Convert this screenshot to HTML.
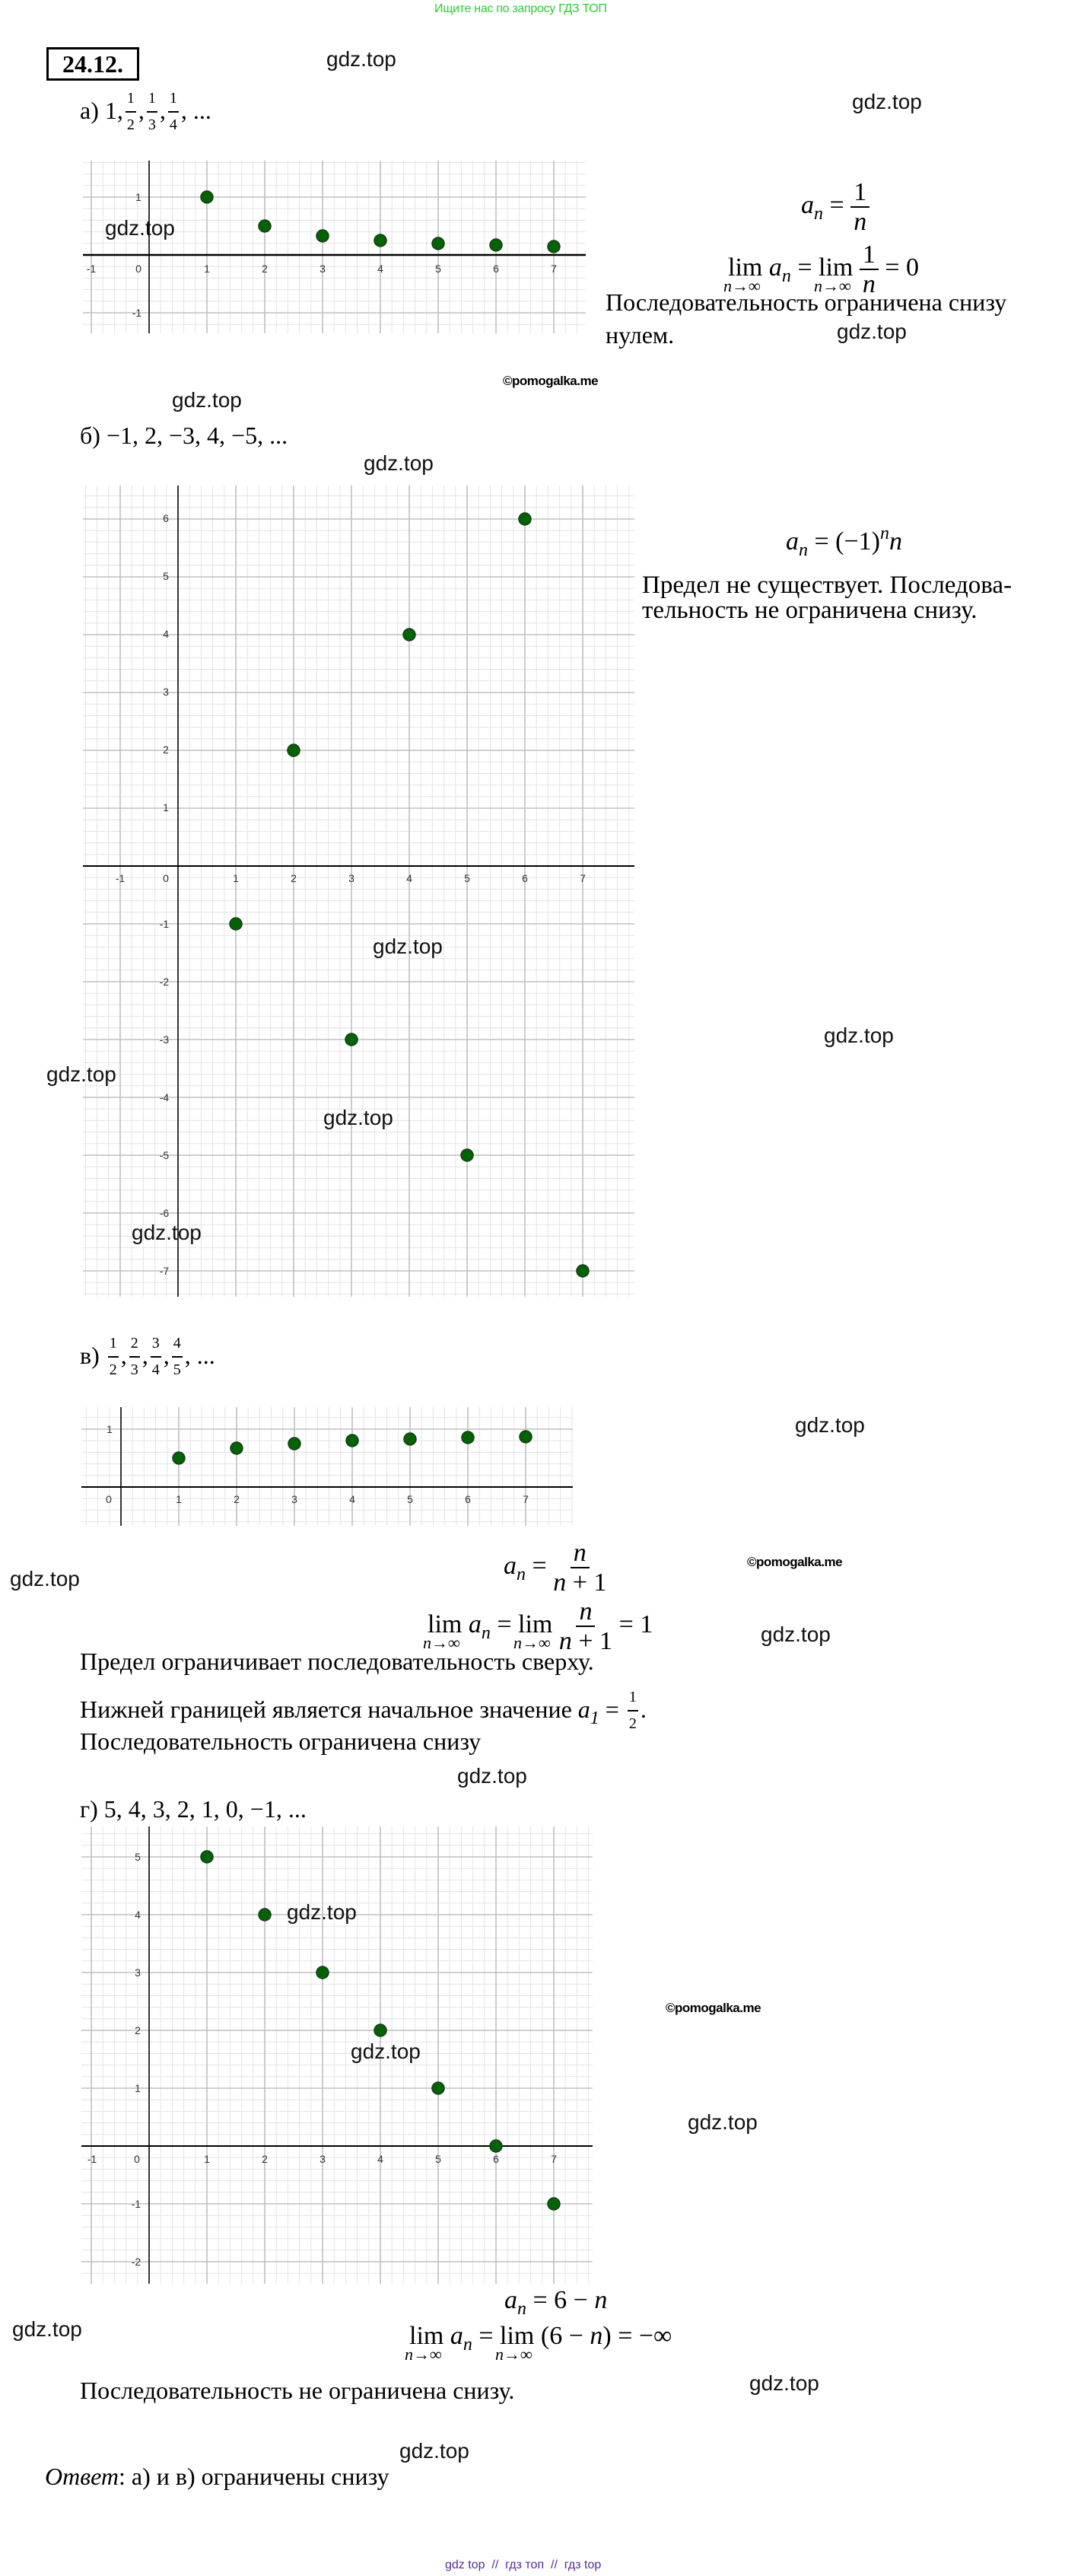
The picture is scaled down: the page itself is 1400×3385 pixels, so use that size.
<!DOCTYPE html>
<html><head><meta charset="utf-8">
<style>
html,body{margin:0;padding:0;background:#fff}
body{width:1400px;height:3385px;position:relative;overflow:hidden;font-family:"Liberation Serif","Noto Serif CJK SC",serif;color:#000}
.t{position:absolute;white-space:nowrap;line-height:1;font-size:32px}
.g{position:absolute;white-space:nowrap;line-height:1;font-family:"Liberation Sans",sans-serif;font-size:28px;color:#111}
.p{position:absolute;white-space:nowrap;line-height:1;font-family:"Liberation Sans",sans-serif;font-size:17px;font-weight:bold;letter-spacing:-0.5px}
.m{position:absolute;white-space:nowrap;line-height:1;font-size:34px}
i{font-style:italic}
.fr{display:inline-flex;flex-direction:column;align-items:center;line-height:1;vertical-align:17px}
.fr .n{border-bottom:2px solid #000;padding:0 4px 1px}
.fr .d{padding-top:2px}
.sm .fr{vertical-align:21px;font-size:20px;margin:0 3px}
.sm .fr .n{padding:0 2px 7px;border-bottom-width:2px}
.sm .fr .d{padding-top:6px}
.lim{position:relative;display:inline-block}
.lim .s{position:absolute;left:-6px;top:30px;font-size:22px;font-style:italic;white-space:nowrap}
sub{font-size:24px;font-style:italic;vertical-align:-8px;line-height:0}
sup{font-size:24px;font-style:italic;vertical-align:14px;line-height:0}
</style></head><body>
<svg width="1400" height="3385" style="position:absolute;left:0;top:0" xmlns="http://www.w3.org/2000/svg">
<defs>
<g id="cell">
<path d="M15.2 0V76M30.4 0V76M45.6 0V76M60.8 0V76M0 15.2H76M0 30.4H76M0 45.6H76M0 60.8H76" stroke="#e3e3e3" stroke-width="1" fill="none"/>
<path d="M0 0V76M76 0V76M0 0H76M0 76H76" stroke="#c0c0c0" stroke-width="1.6" fill="none"/>
</g>
<pattern id="pa" patternUnits="userSpaceOnUse" x="196" y="335" width="76" height="76"><use href="#cell"/></pattern>
<pattern id="pb" patternUnits="userSpaceOnUse" x="234" y="1138" width="76" height="76"><use href="#cell"/></pattern>
<pattern id="pc" patternUnits="userSpaceOnUse" x="159" y="1954" width="76" height="76"><use href="#cell"/></pattern>
<pattern id="pd" patternUnits="userSpaceOnUse" x="196" y="2820" width="76" height="76"><use href="#cell"/></pattern>
</defs>
<g font-family="Liberation Sans, sans-serif" font-size="14" fill="#333" text-anchor="middle">
<rect x="109" y="211" width="661" height="227" fill="url(#pa)"/>
<line x1="196" y1="211" x2="196" y2="438" stroke="#000" stroke-width="1.5"/>
<line x1="109" y1="335" x2="770" y2="335" stroke="#000" stroke-width="2.5"/>
<text x="120" y="358">-1</text><text x="182" y="358">0</text><text x="272" y="358">1</text><text x="348" y="358">2</text><text x="424" y="358">3</text><text x="500" y="358">4</text><text x="576" y="358">5</text><text x="652" y="358">6</text><text x="728" y="358">7</text>
<text x="182" y="264">1</text><text x="180" y="416">-1</text>
<g fill="#006400" stroke="#1c3a1c" stroke-width="1.5">
<circle cx="272" cy="259" r="8"/><circle cx="348" cy="297" r="8"/><circle cx="424" cy="310" r="8"/><circle cx="500" cy="316" r="8"/><circle cx="576" cy="320" r="8"/><circle cx="652" cy="322" r="8"/><circle cx="728" cy="324" r="8"/>
</g>
<rect x="109" y="638" width="725" height="1066" fill="url(#pb)"/>
<line x1="234" y1="638" x2="234" y2="1704" stroke="#000" stroke-width="1.5"/>
<line x1="109" y1="1138" x2="834" y2="1138" stroke="#000" stroke-width="2"/>
<text x="158" y="1159">-1</text><text x="218" y="1159">0</text><text x="310" y="1159">1</text><text x="386" y="1159">2</text><text x="462" y="1159">3</text><text x="538" y="1159">4</text><text x="614" y="1159">5</text><text x="690" y="1159">6</text><text x="766" y="1159">7</text>
<text x="218" y="686">6</text><text x="218" y="762">5</text><text x="218" y="838">4</text><text x="218" y="914">3</text><text x="218" y="990">2</text><text x="218" y="1066">1</text>
<text x="216" y="1219">-1</text><text x="216" y="1295">-2</text><text x="216" y="1371">-3</text><text x="216" y="1447">-4</text><text x="216" y="1523">-5</text><text x="216" y="1599">-6</text><text x="216" y="1675">-7</text>
<g fill="#006400" stroke="#1c3a1c" stroke-width="1.5">
<circle cx="310" cy="1214" r="8"/><circle cx="386" cy="986" r="8"/><circle cx="462" cy="1366" r="8"/><circle cx="538" cy="834" r="8"/><circle cx="614" cy="1518" r="8"/><circle cx="690" cy="682" r="8"/><circle cx="766" cy="1670" r="8"/>
</g>
<rect x="107" y="1849" width="646" height="156" fill="url(#pc)"/>
<line x1="159" y1="1849" x2="159" y2="2005" stroke="#000" stroke-width="1.5"/>
<line x1="107" y1="1954" x2="753" y2="1954" stroke="#000" stroke-width="2"/>
<text x="143" y="1975">0</text><text x="235" y="1975">1</text><text x="311" y="1975">2</text><text x="387" y="1975">3</text><text x="463" y="1975">4</text><text x="539" y="1975">5</text><text x="615" y="1975">6</text><text x="691" y="1975">7</text>
<text x="144" y="1883">1</text>
<g fill="#006400" stroke="#1c3a1c" stroke-width="1.5">
<circle cx="235" cy="1916" r="8"/><circle cx="311" cy="1903" r="8"/><circle cx="387" cy="1897" r="8"/><circle cx="463" cy="1893" r="8"/><circle cx="539" cy="1891" r="8"/><circle cx="615" cy="1889" r="8"/><circle cx="691" cy="1888" r="8"/>
</g>
<rect x="107" y="2400" width="672" height="601" fill="url(#pd)"/>
<line x1="196" y1="2400" x2="196" y2="3001" stroke="#000" stroke-width="1.5"/>
<line x1="107" y1="2820" x2="779" y2="2820" stroke="#000" stroke-width="2"/>
<text x="121" y="2842">-1</text><text x="180" y="2842">0</text><text x="272" y="2842">1</text><text x="348" y="2842">2</text><text x="424" y="2842">3</text><text x="500" y="2842">4</text><text x="576" y="2842">5</text><text x="652" y="2842">6</text><text x="728" y="2842">7</text>
<text x="181" y="2445">5</text><text x="181" y="2521">4</text><text x="181" y="2597">3</text><text x="181" y="2673">2</text><text x="181" y="2749">1</text><text x="179" y="2901">-1</text><text x="179" y="2977">-2</text>
<g fill="#006400" stroke="#1c3a1c" stroke-width="1.5">
<circle cx="272" cy="2440" r="8"/><circle cx="348" cy="2516" r="8"/><circle cx="424" cy="2592" r="8"/><circle cx="500" cy="2668" r="8"/><circle cx="576" cy="2744" r="8"/><circle cx="652" cy="2820" r="8"/><circle cx="728" cy="2896" r="8"/>
</g>
</g>
</svg>

<div style="position:absolute;left:571px;top:3px;font-family:'Liberation Sans',sans-serif;font-size:16px;color:#2fcc2f;white-space:nowrap;letter-spacing:-0.3px">Ищите нас по запросу ГДЗ ТОП</div>
<div style="position:absolute;left:61px;top:62px;width:116px;height:38px;border:3px solid #000;font-size:32px;font-weight:bold;line-height:38px;text-align:center">24.12.</div>

<div class="t sm" style="left:105px;top:119px">а) 1,<span class="fr"><span class="n">1</span><span class="d">2</span></span>,<span class="fr"><span class="n">1</span><span class="d">3</span></span>,<span class="fr"><span class="n">1</span><span class="d">4</span></span>, ...</div>
<div class="m" style="left:1053px;top:236px"><i>a</i><sub>n</sub> = <span class="fr"><span class="n">1</span><span class="d"><i>n</i></span></span></div>
<div class="m" style="left:957px;top:318px"><span class="lim">lim<span class="s">n→∞</span></span> <i>a</i><sub>n</sub> = <span class="lim">lim<span class="s">n→∞</span></span> <span class="fr"><span class="n">1</span><span class="d"><i>n</i></span></span> = 0</div>
<div class="t" style="left:796px;top:381px">Последовательность ограничена снизу</div>
<div class="t" style="left:796px;top:424px">нулем.</div>

<div class="t" style="left:105px;top:556px">б) −1, 2, −3, 4, −5, ...</div>
<div class="m" style="left:1033px;top:695px"><i>a</i><sub>n</sub> = (−1)<sup>n</sup><i>n</i></div>
<div class="t" style="left:844px;top:753px;font-size:33px">Предел не существует. Последова-</div>
<div class="t" style="left:844px;top:786px;font-size:33px">тельность не ограничена снизу.</div>

<div class="t sm" style="left:105px;top:1755px">в) <span class="fr"><span class="n">1</span><span class="d">2</span></span>,<span class="fr"><span class="n">2</span><span class="d">3</span></span>,<span class="fr"><span class="n">3</span><span class="d">4</span></span>,<span class="fr"><span class="n">4</span><span class="d">5</span></span>, ...</div>
<div class="m" style="left:662px;top:2024px"><i>a</i><sub>n</sub> = <span class="fr"><span class="n"><i>n</i></span><span class="d"><i>n</i> + 1</span></span></div>
<div class="m" style="left:562px;top:2101px"><span class="lim">lim<span class="s">n→∞</span></span> <i>a</i><sub>n</sub> = <span class="lim">lim<span class="s">n→∞</span></span> <span class="fr"><span class="n"><i>n</i></span><span class="d"><i>n</i> + 1</span></span> = 1</div>
<div class="t" style="left:105px;top:2167px">Предел ограничивает последовательность сверху.</div>
<div class="t sm" style="left:105px;top:2220px">Нижней границей является начальное значение <i>a</i><sub>1</sub> = <span class="fr"><span class="n">1</span><span class="d">2</span></span>.</div>
<div class="t" style="left:105px;top:2272px">Последовательность ограничена снизу</div>

<div class="t" style="left:105px;top:2361px">г) 5, 4, 3, 2, 1, 0, −1, ...</div>
<div class="m" style="left:663px;top:3006px"><i>a</i><sub>n</sub> = 6 − <i>n</i></div>
<div class="m" style="left:538px;top:3053px"><span class="lim">lim<span class="s">n→∞</span></span> <i>a</i><sub>n</sub> = <span class="lim">lim<span class="s">n→∞</span></span> (6 − <i>n</i>) = −∞</div>
<div class="t" style="left:105px;top:3125px">Последовательность не ограничена снизу.</div>
<div class="t" style="left:59px;top:3238px"><i>Ответ</i>: а) и в) ограничены снизу</div>

<div class="g" style="left:429px;top:64px">gdz.top</div>
<div class="g" style="left:1120px;top:120px">gdz.top</div>
<div class="g" style="left:138px;top:286px">gdz.top</div>
<div class="g" style="left:1100px;top:422px">gdz.top</div>
<div class="g" style="left:226px;top:512px">gdz.top</div>
<div class="g" style="left:478px;top:595px">gdz.top</div>
<div class="g" style="left:490px;top:1230px">gdz.top</div>
<div class="g" style="left:61px;top:1398px">gdz.top</div>
<div class="g" style="left:425px;top:1455px">gdz.top</div>
<div class="g" style="left:173px;top:1606px">gdz.top</div>
<div class="g" style="left:1083px;top:1347px">gdz.top</div>
<div class="g" style="left:1045px;top:1859px">gdz.top</div>
<div class="g" style="left:13px;top:2061px">gdz.top</div>
<div class="g" style="left:1000px;top:2134px">gdz.top</div>
<div class="g" style="left:601px;top:2320px">gdz.top</div>
<div class="g" style="left:377px;top:2499px">gdz.top</div>
<div class="g" style="left:461px;top:2682px">gdz.top</div>
<div class="g" style="left:904px;top:2775px">gdz.top</div>
<div class="g" style="left:16px;top:3047px">gdz.top</div>
<div class="g" style="left:985px;top:3118px">gdz.top</div>
<div class="g" style="left:525px;top:3207px">gdz.top</div>

<div class="p" style="left:661px;top:492px">©pomogalka.me</div>
<div class="p" style="left:982px;top:2044px">©pomogalka.me</div>
<div class="p" style="left:875px;top:2630px">©pomogalka.me</div>

<div style="position:absolute;left:585px;top:3362px;font-family:'Liberation Sans',sans-serif;font-size:16px;color:#5a2a9a;white-space:nowrap">gdz top &nbsp;// &nbsp;гдз топ &nbsp;// &nbsp;гдз top</div>
</body></html>
